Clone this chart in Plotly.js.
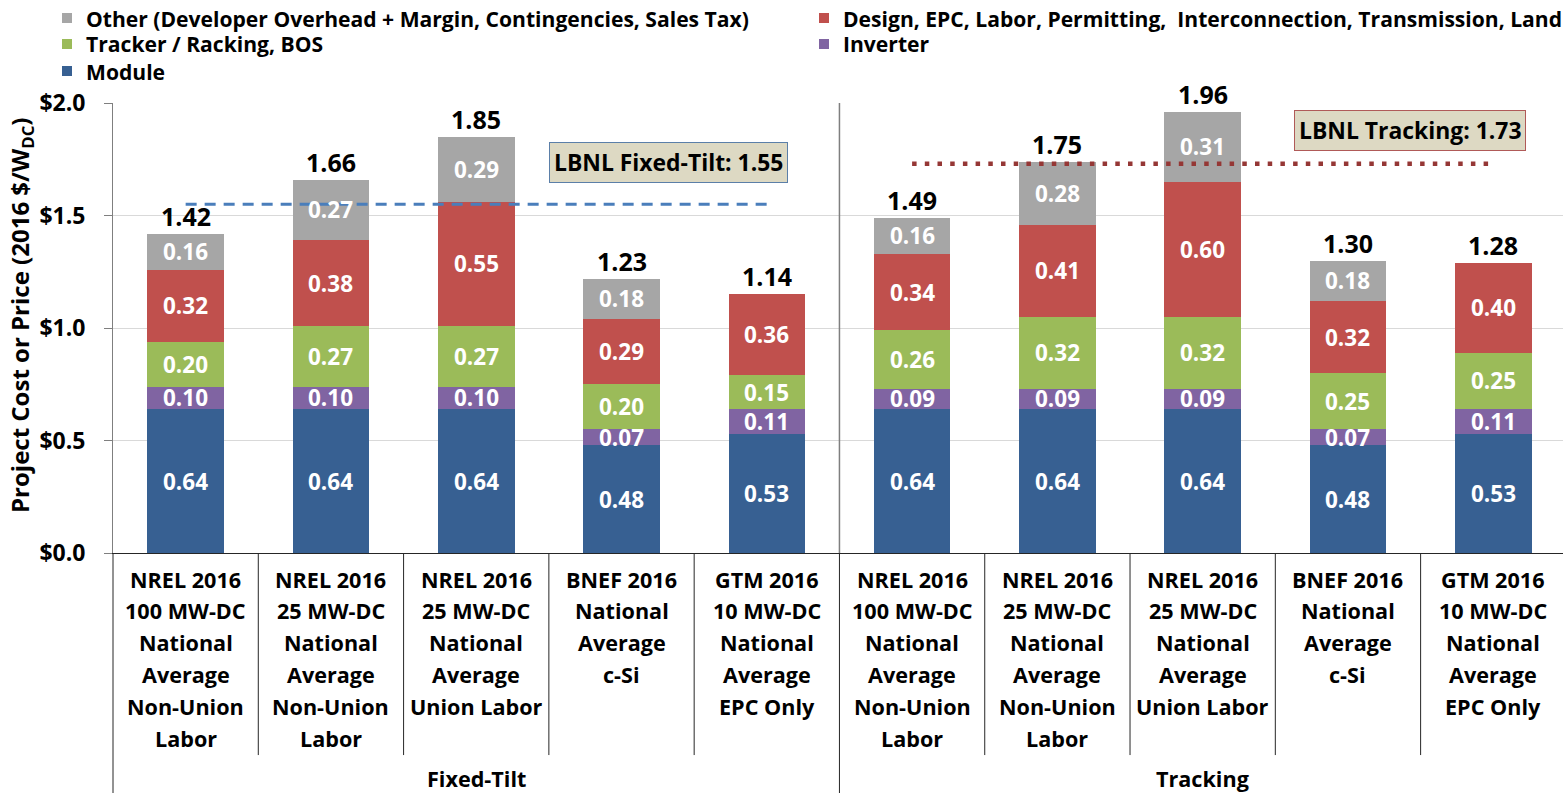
<!DOCTYPE html>
<html>
<head>
<meta charset="utf-8">
<script src="https://cdn.plot.ly/plotly-3.0.1.min.js"></script>
<style>
html,body{margin:0;padding:0;background:#fff;overflow:hidden;}
#chart{width:1563px;height:793px;}
</style>
</head>
<body>
<div id="chart"></div>
<script>
// ---- data ----
const categories = [
  "NREL 2016<br>100 MW-DC<br>National<br>Average<br>Non-Union<br>Labor",
  "NREL 2016<br>25 MW-DC<br>National<br>Average<br>Non-Union<br>Labor",
  "NREL 2016<br>25 MW-DC<br>National<br>Average<br>Union Labor",
  "BNEF 2016<br>National<br>Average<br>c-Si",
  "GTM 2016<br>10 MW-DC<br>National<br>Average<br>EPC Only",
  "NREL 2016<br>100 MW-DC<br>National<br>Average<br>Non-Union<br>Labor",
  "NREL 2016<br>25 MW-DC<br>National<br>Average<br>Non-Union<br>Labor",
  "NREL 2016<br>25 MW-DC<br>National<br>Average<br>Union Labor",
  "BNEF 2016<br>National<br>Average<br>c-Si",
  "GTM 2016<br>10 MW-DC<br>National<br>Average<br>EPC Only"
];
const groups = ["Fixed-Tilt", "Tracking"];
const groupCenters = [2, 7];
const module   = [0.64, 0.64, 0.64, 0.48, 0.53, 0.64, 0.64, 0.64, 0.48, 0.53];
const inverter = [0.10, 0.10, 0.10, 0.07, 0.11, 0.09, 0.09, 0.09, 0.07, 0.11];
const tracker  = [0.20, 0.27, 0.27, 0.20, 0.15, 0.26, 0.32, 0.32, 0.25, 0.25];
const design   = [0.32, 0.38, 0.55, 0.29, 0.36, 0.34, 0.41, 0.60, 0.32, 0.40];
const other    = [0.16, 0.27, 0.29, 0.18, null, 0.16, 0.28, 0.31, 0.18, null];
const totals   = [1.42, 1.66, 1.85, 1.23, 1.14, 1.49, 1.75, 1.96, 1.30, 1.28];
const lbnlFixed = 1.55;
const lbnlTracking = 1.73;
const yTicks = [0, 0.5, 1.0, 1.5, 2.0];
const seriesNames = [
  "Module", "Inverter", "Tracker / Racking, BOS",
  "Design, EPC, Labor, Permitting,  Interconnection, Transmission, Land",
  "Other (Developer Overhead + Margin, Contingencies, Sales Tax)"
];
const seriesColors = ["#376092", "#8064A2", "#9BBB59", "#C0504D", "#A6A6A6"];
const seriesData = [module, inverter, tracker, design, other];

// ---- font sizing helper (match reference text widths) ----
const FONT = "'Open Sans', Lato, sans-serif";
const cv = document.createElement("canvas").getContext("2d");
cv.font = "bold 100px 'Open Sans'";
function fit(text, target) { return Math.round(100 * target / cv.measureText(text).width * 10) / 10; }
const fsLegend = fit("Other (Developer Overhead + Margin, Contingencies, Sales Tax)", 662);
const fsCat = fit("NREL 2016", 111);
const fsTotal = fit("1.42", 50);
const fsSeg = fit("0.64", 45);
const fsBox = fit("LBNL Fixed-Tilt: 1.55", 229);
const fsTick = fit("$2.0", 46);
const fsTitle = fit("Project Cost or Price (2016 $/WDC)", 405);

// ---- build ----
const xs = categories.map((_, i) => i);
const traces = seriesData.map((vals, k) => ({
  type: "bar", x: xs, y: vals, name: seriesNames[k],
  marker: {color: seriesColors[k], line: {width: 0}},
  showlegend: false, hoverinfo: "skip"
}));
traces.push({type: "scatter", mode: "lines", x: [0, 4], y: [lbnlFixed, lbnlFixed],
  line: {color: "#4A7EBB", width: 3, dash: "11px,8px"}, showlegend: false, hoverinfo: "skip"});
traces.push({type: "scatter", mode: "lines", x: [5, 9], y: [lbnlTracking, lbnlTracking],
  line: {color: "#953735", width: 4.5, dash: "4.5px,8.2px"}, showlegend: false, hoverinfo: "skip"});

const annotations = [];
const shapes = [];
const B = {family: FONT, color: "#000000", weight: 700};
xs.forEach(i => {
  let base = 0;
  seriesData.forEach(vals => {
    const v = vals[i];
    if (v == null) return;
    annotations.push({x: i, y: base + v / 2, xref: "x", yref: "y", text: v.toFixed(2),
      showarrow: false, font: {...B, size: fsSeg, color: "#ffffff"}});
    base += v;
  });
  annotations.push({x: i, y: base, xref: "x", yref: "y", text: totals[i].toFixed(2),
    showarrow: false, yanchor: "bottom", yshift: -1,
    font: {...B, size: fsTotal}});
  categories[i].split("<br>").forEach((line, k) => {
    annotations.push({x: i, y: 0, xref: "x", yref: "paper", text: line, showarrow: false,
      yanchor: "middle", yshift: -26 - 31.8 * k, borderpad: 0, font: {...B, size: fsCat}});
  });
  if (i < 9 && i !== 4) {
    shapes.push({type: "line", xref: "x", yref: "paper", x0: i + 0.5, x1: i + 0.5, y0: 0, y1: -0.449,
      line: {color: "#262626", width: 1}});
  }
});
shapes.push({type: "line", xref: "x", yref: "paper", x0: 4.5, x1: 4.5, y0: 1, y1: 0,
  line: {color: "#7F7F7F", width: 1.5}});
shapes.push({type: "line", xref: "x", yref: "paper", x0: 4.5, x1: 4.5, y0: 0, y1: -0.54,
  line: {color: "#262626", width: 1}});
shapes.push({type: "line", xref: "paper", yref: "paper", x0: 0, x1: 0, y0: 0, y1: -0.54,
  line: {color: "#262626", width: 1}});

groups.forEach((g, j) => {
  annotations.push({x: groupCenters[j], y: 0, xref: "x", yref: "paper", text: g, showarrow: false,
    yanchor: "middle", yshift: -225, font: {...B, size: fsCat}});
});

annotations.push({x: 3.32, y: 1.736, xref: "x", yref: "y", text: "LBNL Fixed-Tilt: " + lbnlFixed.toFixed(2),
  showarrow: false, bgcolor: "#DDD9C3", bordercolor: "#5B7FA8", borderwidth: 1, borderpad: 4,
  font: {...B, size: fsBox}});
annotations.push({x: 8.43, y: 1.878, xref: "x", yref: "y", text: "LBNL Tracking: " + lbnlTracking.toFixed(2),
  showarrow: false, bgcolor: "#DDD9C3", bordercolor: "#B05A58", borderwidth: 1, borderpad: 4,
  font: {...B, size: fsBox}});

annotations.push({x: 0, y: 0.5, xref: "paper", yref: "paper", xanchor: "center", yanchor: "middle",
  xshift: -92, yshift: 12,
  text: "Project Cost or Price (2016 $/W<sub>DC</sub>)", textangle: -90, showarrow: false,
  font: {...B, size: fsTitle}});

// custom legend (2 columns, Excel order)
const legendOrder = [4, 3, 2, 1, 0];
const legendPos = [[62, 18], [819, 18], [62, 44], [819, 44], [62, 71]];
const L = 113, PW = 1450, PH = 450, BOT = 553;
const px = v => (v - L) / PW, py = v => (BOT - v) / PH;
legendOrder.forEach((k, n) => {
  const [lx, ly] = legendPos[n];
  shapes.push({type: "rect", xref: "paper", yref: "paper",
    x0: px(lx), x1: px(lx + 10), y0: py(ly - 5), y1: py(ly + 5),
    fillcolor: seriesColors[k], line: {width: 0}});
  annotations.push({x: px(lx + 23), y: py(ly), xref: "paper", yref: "paper", xanchor: "left", yanchor: "middle",
    text: seriesNames[k], showarrow: false, borderpad: 0, font: {...B, size: fsLegend}});
});

const layout = {
  width: 1563, height: 793,
  margin: {l: 113, r: 0, t: 103, b: 240, pad: 0},
  paper_bgcolor: "#ffffff", plot_bgcolor: "#ffffff",
  font: {family: FONT, color: "#000000"},
  barmode: "stack", bargap: 0.473,
  showlegend: false,
  xaxis: {range: [-0.5, 9.48], showticklabels: false, ticks: "", showgrid: false, zeroline: false,
    showline: true, linecolor: "#262626", linewidth: 1, fixedrange: true},
  yaxis: {range: [0, 2], tickvals: yTicks, ticktext: yTicks.map(v => "$" + v.toFixed(1)),
    showgrid: true, gridcolor: "#D9D9D9", gridwidth: 1, zeroline: false,
    showline: true, linecolor: "#7F7F7F", linewidth: 1,
    ticks: "outside", ticklen: 8, tickcolor: "#7F7F7F", ticklabelstandoff: 14,
    tickfont: {...B, size: fsTick}, fixedrange: true},
  shapes: shapes, annotations: annotations
};
Plotly.newPlot("chart", traces, layout, {displayModeBar: false, staticPlot: true});
</script>
</body>
</html>
